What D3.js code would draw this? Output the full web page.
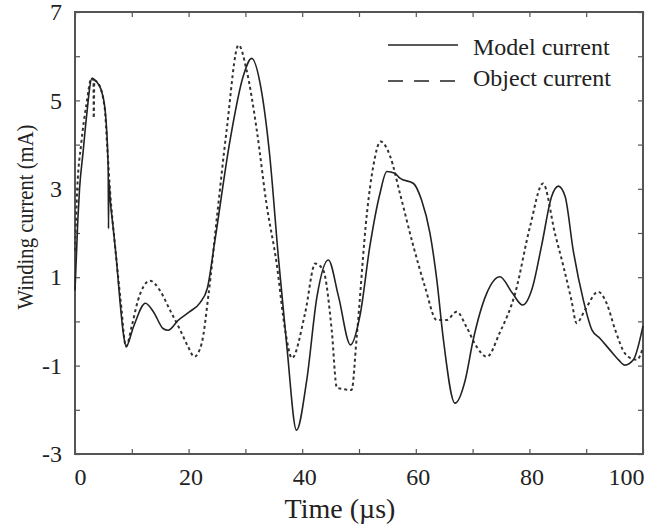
<!DOCTYPE html>
<html>
<head>
<meta charset="utf-8">
<script src="https://cdn.jsdelivr.net/npm/d3@7"></script>
<style>
  body { margin: 0; background: #fff; }
  text { font-family: "Liberation Serif", "Times New Roman", serif; fill: #222; }
</style>
</head>
<body>
<div id="chart"></div>
<script>
// model current (solid) : time in µs, current in mA
const modelTime = [0, 0.5, 0.8, 1.4, 2.0, 3.0, 3.8, 4.6, 5.3, 5.8, 5.85, 5.9, 5.95, 6.2, 6.7, 7.3, 7.9, 8.5, 9.0,
  10.3, 12.4, 13.8, 15.5, 16.4, 18.2, 20.2, 22.0, 23.3, 24.6, 27.3, 29.6, 31.1, 32.9, 34.3, 35.8, 37.3, 39.0,
  40.8, 42.6, 44.6, 46.4, 48.5, 50.2, 51.9, 53.7, 54.9, 56.3, 57.2, 59.6, 61.0, 62.5, 63.7, 64.8, 66.9, 68.7,
  70.1, 72.5, 74.8, 77.0, 78.8, 80.5, 82.2, 83.9, 85.1, 86.3, 87.7, 89.5, 91.0, 92.4, 94.2, 95.7, 96.8, 98.3, 100];
const modelCurrent = [0.7, 2.3, 3.0, 3.8, 4.6, 5.5, 5.42, 5.24, 4.78, 3.65, 3.4, 2.1, 3.2, 2.75, 2.14, 1.39, 0.48, -0.26, -0.57,
  -0.12, 0.41, 0.22, -0.16, -0.2, 0.03, 0.22, 0.42, 0.75, 1.8, 4.1, 5.54, 5.95, 5.16, 3.73, 1.46, -0.57, -2.46,
  -1.33, 0.56, 1.39, 0.56, -0.53, 0.15, 1.69, 2.9, 3.39, 3.35, 3.24, 3.12, 2.75, 1.99, 0.94, -0.35, -1.85, -1.33,
  -0.42, 0.64, 1.01, 0.64, 0.37, 0.75, 1.75, 2.82, 3.06, 2.82, 1.62, 0.48, -0.19, -0.38, -0.65, -0.87, -0.99, -0.87, -0.1];

// object current (dashed)
const objectTime = [0, 0.4, 1.1, 2.0, 2.9, 3.25, 3.3, 3.4, 4.0, 5.2, 5.7, 6.2, 7.0, 7.6, 8.2, 8.7, 9.0,
  10.0, 11.1, 13.2, 14.9, 16.7, 18.5, 19.9, 21.0, 22.3, 23.5, 25.0, 26.7, 28.8, 30.2, 32.0, 33.7, 35.5, 37.0, 38.2,
  40.5, 42.3, 43.7, 45.2, 46.1, 48.7, 49.6, 51.4, 52.5, 53.8, 55.5, 57.2, 59.6, 61.6, 63.7, 65.4, 67.2, 68.9,
  70.7, 72.5, 74.8, 77.5, 80.1, 82.4, 84.5, 86.0, 87.4, 88.3, 89.8, 92.1, 93.6, 95.1, 96.8, 97.4, 98.9, 100];
const objectCurrent = [1.6, 3.0, 4.03, 4.9, 5.5, 5.45, 4.6, 5.45, 5.4, 4.86, 3.9, 2.9, 1.77, 1.0, 0.26, -0.42, -0.57,
  -0.1, 0.48, 0.92, 0.71, 0.26, -0.19, -0.57, -0.8, -0.5, 0.6, 2.37, 4.33, 6.25, 5.69, 4.33, 2.67, 1.31, -0.2, -0.83,
  0.18, 1.31, 1.16, -0.2, -1.5, -1.55, -0.35, 2.45, 3.5, 4.07, 3.73, 2.9, 1.69, 0.79, 0.03, 0.03, 0.22, -0.12,
  -0.57, -0.8, -0.25, 0.64, 2.14, 3.12, 1.99, 1.24, 0.48, -0.04, 0.26, 0.67, 0.41, -0.19, -0.72, -0.8, -0.87, -0.6];

const xTicks = [0, 10, 20, 30, 40, 50, 60, 70, 80, 90, 100];
const yTicks = [-3, -2, -1, 0, 1, 2, 3, 4, 5, 6, 7];
const legendNames = ["Model current", "Object current"];

const width = 658, height = 526;
const margins = { top: 12, right: 15, bot: 72, left: 75 };
const chartWidth = width - margins.left - margins.right;
const chartHeight = height - margins.top - margins.bot;

const svg = d3.select("#chart").append("svg")
  .attr("width", width)
  .attr("height", height);

const g = svg.append("g")
  .attr("transform", `translate(${margins.left},${margins.top})`);

const xScale = d3.scaleLinear().domain([0, 100]).range([0, chartWidth]);
const yScale = d3.scaleLinear().domain([-3, 7]).range([chartHeight, 0]);

// axes, ticks pointing inward on all four sides
const styleAxis = (sel) => {
  sel.select(".domain").remove();
  sel.selectAll(".tick line").attr("stroke", "#555").attr("stroke-width", 1.2);
  sel.selectAll("text").attr("fill", "#222").style("font-size", "24px")
    .style("font-family", "Liberation Serif, Times New Roman, serif");
};

const xAxisCall = d3.axisBottom(xScale).tickValues(xTicks).tickSizeInner(-5).tickSizeOuter(0)
  .tickPadding(14).tickFormat((d) => (d % 20 === 0 ? d : ""));
const xAxisGroup = g.append("g")
  .attr("transform", `translate(0,${chartHeight})`)
  .call(xAxisCall)
  .call(styleAxis);
xAxisGroup.selectAll("text")
  .attr("text-anchor", (d) => (d === 0 ? "start" : d === 100 ? "end" : "middle"))
  .attr("dx", (d) => (d === 0 ? -1 : d === 100 ? 1 : 2));

g.append("g").call(d3.axisTop(xScale).tickValues(xTicks).tickSizeInner(-5).tickSizeOuter(0).tickFormat(""))
  .call(styleAxis);

const yAxisCall = d3.axisLeft(yScale).tickValues(yTicks).tickSizeInner(-5).tickSizeOuter(0)
  .tickPadding(13).tickFormat((d) => (Math.abs(d) % 2 === 1 ? d : ""));
g.append("g").call(yAxisCall).call(styleAxis);

g.append("g")
  .attr("transform", `translate(${chartWidth},0)`)
  .call(d3.axisRight(yScale).tickValues(yTicks).tickSizeInner(-5).tickSizeOuter(0).tickFormat(""))
  .call(styleAxis);

// frame
g.append("rect")
  .attr("width", chartWidth)
  .attr("height", chartHeight)
  .attr("fill", "none")
  .attr("stroke", "#555")
  .attr("stroke-width", 2);

// curves
const line = d3.line()
  .x((d) => xScale(d[0]))
  .y((d) => yScale(d[1]))
  .curve(d3.curveMonotoneX);

const modelData = modelTime.map((t, i) => [t, modelCurrent[i]]);
const objectData = objectTime.map((t, i) => [t, objectCurrent[i]]);

g.append("path")
  .datum(objectData)
  .attr("d", line)
  .attr("fill", "none")
  .attr("stroke", "#333")
  .attr("stroke-width", 2)
  .attr("stroke-dasharray", "3,3");

g.append("path")
  .datum(modelData)
  .attr("d", line)
  .attr("fill", "none")
  .attr("stroke", "#222")
  .attr("stroke-width", 1.6);

// axis titles
svg.append("text")
  .text("Time (\u00b5s)")
  .attr("x", 340)
  .attr("y", 518)
  .attr("text-anchor", "middle")
  .style("font-size", "28px");

// y title is narrow along its length in the original
svg.append("text")
  .text("Winding current (mA)")
  .attr("transform", "translate(33,217) rotate(-90) scale(0.86,1)")
  .attr("text-anchor", "middle")
  .style("font-size", "24px");

// legend
const legend = svg.append("g").attr("transform", "translate(388,45)");
const lg = legend.selectAll("g").data(legendNames).enter().append("g")
  .attr("transform", (_, i) => `translate(0,${i * 36})`);
lg.append("line")
  .attr("x1", 0).attr("x2", 70)
  .attr("stroke", "#222")
  .attr("stroke-width", 1.6)
  .attr("stroke-dasharray", (_, i) => (i === 1 ? "15,11" : null));
lg.append("text")
  .text((d) => d)
  .attr("x", 85)
  .attr("y", (_, i) => (i === 0 ? 10 : 5))
  .style("font-size", "24px");
</script>
</body>
</html>
